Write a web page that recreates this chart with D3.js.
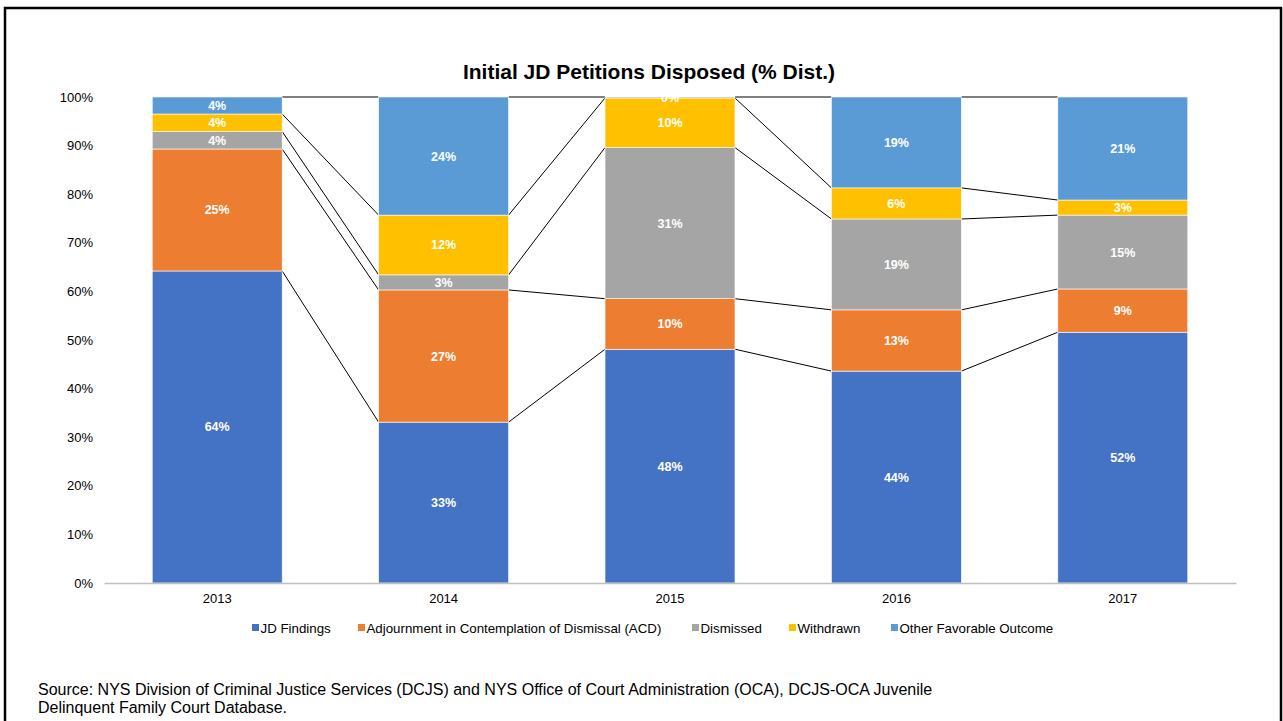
<!DOCTYPE html>
<html>
<head>
<meta charset="utf-8">
<script src="https://cdn.jsdelivr.net/npm/d3@7"></script>
<style>
  body { margin: 0; background: #fff; }
  svg text { font-family: "Liberation Sans", Arial, sans-serif; }
</style>
</head>
<body>
<svg id="chart" width="1283" height="721"></svg>
<script>
// chart data
var years = ["2013", "2014", "2015", "2016", "2017"];
var seriesNames = ["JD Findings", "Adjournment in Contemplation of Dismissal (ACD)", "Dismissed", "Withdrawn", "Other Favorable Outcome"];
var seriesColors = ["#4472C4", "#ED7D31", "#A5A5A5", "#FFC000", "#5B9BD5"];
var jdFindings = [64.2, 33.1, 48.1, 43.6, 51.6];
var acd = [25.1, 27.2, 10.4, 12.6, 8.9];
var dismissed = [3.6, 3.1, 31.1, 18.7, 15.2];
var withdrawn = [3.6, 12.3, 10.2, 6.4, 3.1];
var otherFav = [3.5, 24.3, 0.2, 18.7, 21.2];
var yTicks = [0, 10, 20, 30, 40, 50, 60, 70, 80, 90, 100];

var svg = d3.select("#chart");

// outer frame (no bottom edge in the reference)
svg.append("path")
    .attr("d", "M5,721 V8 H1281 V721")
    .attr("fill", "none")
    .attr("stroke", "#000")
    .attr("stroke-width", 2.5);

var x = d3.scaleBand().domain(years).range([104, 1236]).paddingInner(0.426).paddingOuter(0.213);
var y = d3.scaleLinear().domain([0, 100]).range([583, 97]);

var rows = years.map(function(yr, i) {
    return { year: yr, s0: jdFindings[i], s1: acd[i], s2: dismissed[i], s3: withdrawn[i], s4: otherFav[i] };
});
var keys = ["s0", "s1", "s2", "s3", "s4"];
var stacked = d3.stack().keys(keys)(rows);

svg.append("text")
    .attr("x", 649).attr("y", 79)
    .attr("text-anchor", "middle")
    .attr("font-size", 21).attr("font-weight", "bold")
    .text("Initial JD Petitions Disposed (% Dist.)");

// series lines between bars
var bw = x.bandwidth();
var boundaries = stacked.map(function(s) { return s.map(function(d) { return d[1]; }); });
boundaries.forEach(function(vals) {
    for (var i = 0; i < years.length - 1; i++) {
        svg.append("line")
            .attr("x1", x(years[i]) + bw).attr("y1", y(vals[i]))
            .attr("x2", x(years[i + 1])).attr("y2", y(vals[i + 1]))
            .attr("stroke", "#000").attr("stroke-width", 1);
    }
});

var layer = svg.selectAll("g.layer").data(stacked).enter().append("g")
    .attr("class", "layer")
    .attr("fill", function(d, i) { return seriesColors[i]; });

layer.selectAll("rect").data(function(d) { return d; }).enter().append("rect")
    .attr("x", function(d) { return x(d.data.year); })
    .attr("y", function(d) { return y(d[1]); })
    .attr("width", bw)
    .attr("height", function(d) { return y(d[0]) - y(d[1]); })
    .attr("stroke", "#fff").attr("stroke-width", 0.6);

layer.selectAll("text").data(function(d) { return d; }).enter().append("text")
    .attr("x", function(d) { return x(d.data.year) + bw / 2; })
    .attr("y", function(d) { return (y(d[0]) + y(d[1])) / 2 + 4.5; })
    .attr("text-anchor", "middle")
    .attr("font-size", 12.5).attr("font-weight", "bold")
    .attr("fill", "#fff")
    .text(function(d) { return Math.round(d[1] - d[0]) + "%"; });

// axes
var xAxis = svg.append("g").attr("transform", "translate(0,583)")
    .call(d3.axisBottom(x).tickSize(0).tickPadding(11));
xAxis.select(".domain").attr("stroke", "#bfbfbf").attr("stroke-width", 1.5);
xAxis.selectAll("text").attr("font-size", 13).attr("fill", "#000")
    .style("font-family", "'Liberation Sans', Arial, sans-serif");

var yAxis = svg.append("g").attr("transform", "translate(104,0)")
    .call(d3.axisLeft(y).tickValues(yTicks).tickSize(0).tickPadding(11).tickFormat(function(d) { return d + "%"; }));
yAxis.select(".domain").remove();
yAxis.selectAll("text").attr("font-size", 13).attr("fill", "#000")
    .style("font-family", "'Liberation Sans', Arial, sans-serif");

// legend
var legendX = [252, 358, 692, 789, 891];
var legend = svg.selectAll("g.legend").data(seriesNames).enter().append("g")
    .attr("class", "legend")
    .attr("transform", function(d, i) { return "translate(" + legendX[i] + ",628)"; });
legend.append("rect").attr("x", 0).attr("y", -4).attr("width", 7).attr("height", 7)
    .attr("fill", function(d, i) { return seriesColors[i]; });
legend.append("text").attr("x", 8.5).attr("y", 4.5)
    .attr("font-size", 13.3).attr("fill", "#000")
    .text(function(d) { return d; });

svg.append("text").attr("x", 38).attr("y", 695).attr("font-size", 16)
    .text("Source: NYS Division of Criminal Justice Services (DCJS) and NYS Office of Court Administration (OCA), DCJS-OCA Juvenile");
svg.append("text").attr("x", 38).attr("y", 713).attr("font-size", 16)
    .text("Delinquent Family Court Database.");
</script>
</body>
</html>
